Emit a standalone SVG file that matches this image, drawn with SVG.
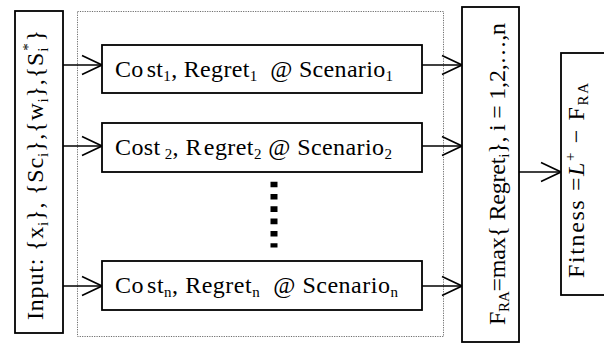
<svg xmlns="http://www.w3.org/2000/svg" width="604" height="346" viewBox="0 0 604 346">
  <style>
    .box { fill: #fff; stroke: #000; stroke-width: 1.8; }
    .frame { fill: none; stroke: #6e6e6e; stroke-width: 1; stroke-dasharray: 1.2 1.2; }
    .t { font-family: 'Liberation Serif', 'Times New Roman', serif; font-size: 24px; fill: #000; }
    .s { font-size: 15px; }
    .link { stroke: #000; stroke-width: 1.5; fill: none; marker-end: url(#vee); }
  </style>
  <defs>
    <marker id="vee" markerUnits="userSpaceOnUse" viewBox="0 0 22 22" markerWidth="22" markerHeight="22" refX="21" refY="11" orient="auto">
      <path d="M1,1.5 L21,11 L1,20.5" fill="none" stroke="#000" stroke-width="1.6"/>
    </marker>
  </defs>

  <rect width="604" height="346" fill="#fff"/>

  <!-- dotted enclosure around the scenario evaluations -->
  <rect class="frame" x="77.5" y="11.5" width="366" height="325"/>

  <g id="connectors">
    <line class="link" x1="63" y1="65" x2="102" y2="65"/>
    <line class="link" x1="63" y1="146" x2="102" y2="146"/>
    <line class="link" x1="63" y1="286" x2="102" y2="286"/>
    <line class="link" x1="422" y1="65" x2="462" y2="65"/>
    <line class="link" x1="422" y1="146" x2="462" y2="146"/>
    <line class="link" x1="422" y1="286" x2="462" y2="286"/>
    <line class="link" x1="519" y1="172" x2="561" y2="172"/>
  </g>

  <g id="input">
    <rect class="box" x="15" y="11" width="48" height="322"/>
    <text class="t" transform="translate(43,320) rotate(-90)" font-size="25" textLength="290" lengthAdjust="spacing">Input: {x<tspan class="s" dy="5">i</tspan><tspan dy="-5">}, {Sc</tspan><tspan class="s" dy="5">i</tspan><tspan dy="-5">},{w</tspan><tspan class="s" dy="5">i</tspan><tspan dy="-5">},{S</tspan><tspan class="s" dy="5">i</tspan><tspan class="s" dx="-4" dy="-15">*</tspan><tspan dx="1" dy="10">}</tspan></text>
  </g>

  <g id="scenario1">
    <rect class="box" x="102" y="45" width="320" height="48"/>
    <text class="t" x="115" y="77" textLength="278" lengthAdjust="spacing">Co<tspan dx="3">st</tspan><tspan class="s" dy="4">1</tspan><tspan dy="-4">, Regret</tspan><tspan class="s" dy="4">1</tspan><tspan dy="-4" xml:space="preserve">  @ Scenario</tspan><tspan class="s" dy="4">1</tspan></text>
  </g>

  <g id="scenario2">
    <rect class="box" x="102" y="123" width="320" height="49"/>
    <text class="t" x="115" y="155" textLength="277" lengthAdjust="spacing">Cost<tspan class="s" dx="4" dy="4">2</tspan><tspan dy="-4">, R</tspan><tspan dx="2">egret</tspan><tspan class="s" dy="4">2</tspan><tspan dy="-4"> @ Scenario</tspan><tspan class="s" dy="4">2</tspan></text>
  </g>

  <g id="ellipsis">
    <line x1="274" y1="181.7" x2="274" y2="247.5" stroke="#000" stroke-width="7" stroke-dasharray="5.6 6.7"/>
  </g>

  <g id="scenarioN">
    <rect class="box" x="102" y="261" width="320" height="49"/>
    <text class="t" x="115" y="293" textLength="283" lengthAdjust="spacing">Co<tspan dx="3">st</tspan><tspan class="s" dy="4">n</tspan><tspan dy="-4">, Regret</tspan><tspan class="s" dy="4">n</tspan><tspan dy="-4" xml:space="preserve">  @ Scenario</tspan><tspan class="s" dy="4">n</tspan></text>
  </g>

  <g id="max-regret">
    <rect class="box" x="462" y="7" width="57" height="335"/>
    <text class="t" transform="translate(504.5,325) rotate(-90)" textLength="302" lengthAdjust="spacing">F<tspan class="s" dy="4">RA</tspan><tspan dy="-4">=max{ Regret</tspan><tspan class="s" dy="4">i</tspan><tspan dy="-4">}, i = 1,2,…,n</tspan></text>
  </g>

  <g id="fitness">
    <rect class="box" x="561" y="53" width="50" height="242"/>
    <text class="t" transform="translate(583.5,278) rotate(-90)" textLength="195" lengthAdjust="spacing">Fitness =<tspan font-style="italic">L</tspan><tspan class="s" dy="-9">+</tspan><tspan dy="9"> − F</tspan><tspan class="s" dy="4">RA</tspan></text>
  </g>
</svg>
